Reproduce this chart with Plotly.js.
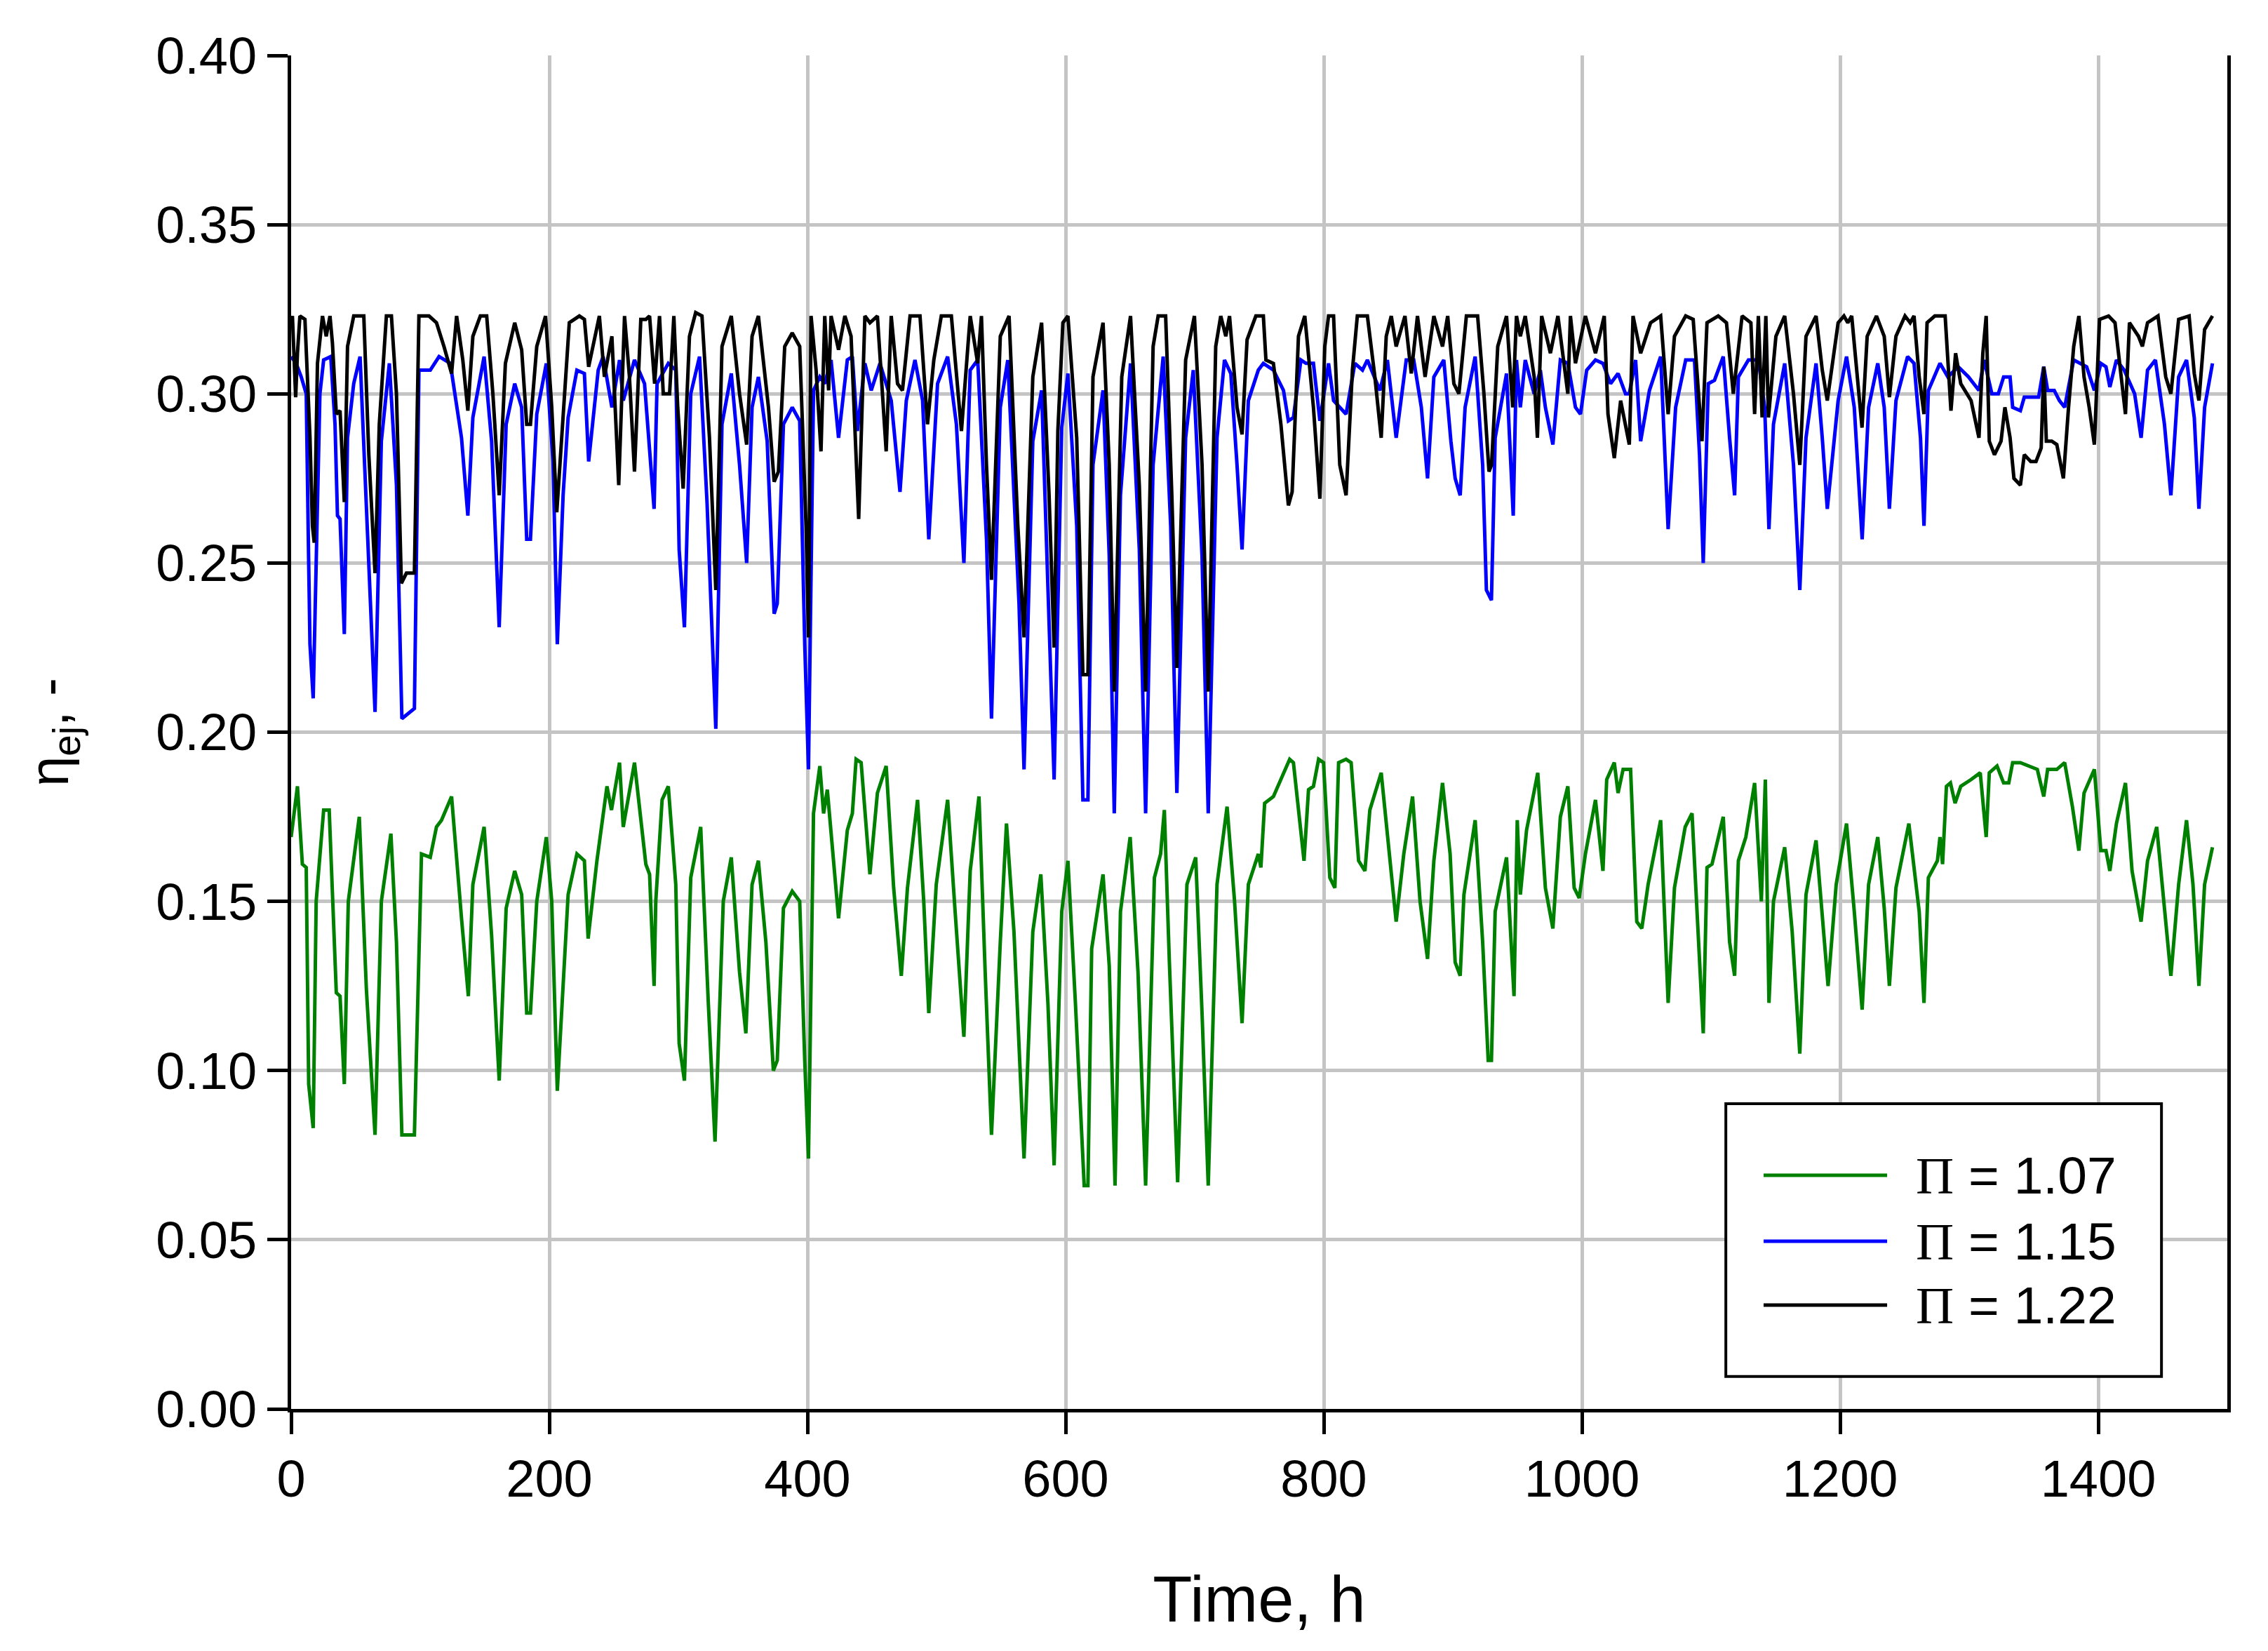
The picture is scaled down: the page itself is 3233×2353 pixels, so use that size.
<!DOCTYPE html>
<html>
<head>
<meta charset="utf-8">
<script src="https://cdn.plot.ly/plotly-3.0.1.min.js"></script>
<style>
  html, body { margin: 0; padding: 0; background: #fff; }
  #chart { width: 3233px; height: 2353px; }
</style>
</head>
<body>
<div id="chart"></div>
<script>
// values (time in h, efficiency -)
var tGreen = [0, 4.9, 8.7, 11.7, 13.6, 17.1, 19.4, 25.2, 29.5, 35, 37.9, 41.2, 44.3, 48.5, 52.8, 58.3, 65, 69.9, 77.3, 81.6,
  85.8, 95.5, 101, 107.8, 112.6, 116.5, 124.3, 132, 137.3, 140.8, 149.5, 155.3, 161.2, 166.6, 173.2, 178.6, 182.5, 185.4, 190.3, 197.7,
  201.9, 206.2, 210.7, 214.6, 221.4, 227.2, 230.1, 236.9, 244.7, 248.2, 254.4, 257.3, 266, 274.8, 277.7, 281.2, 282.5, 287.4, 292.2, 298,
  300.6, 304.7, 309.6, 311.5, 317.3, 323.2, 328.4, 334.8, 341, 347.4, 352.3, 357.1, 362, 367.8, 373.6, 376.6, 381.4, 388.2, 394, 397.9,
  400.8, 404.7, 409.6, 412.5, 415.4, 424.1, 430.9, 434.8, 437.7, 441.6, 448.4, 454.2, 461, 466.8, 472.7, 477.5, 485.3, 490.1, 494, 499.8,
  508.6, 514.4, 521.2, 526.1, 532.9, 537.7, 542.6, 549.4, 554.2, 560, 567.8, 574.6, 580.8, 586.3, 591.1, 597, 601.8, 607.6, 614.4, 617.3,
  620.2, 629, 633.8, 638.3, 642.5, 650, 656.1, 662, 668.8, 673.6, 676.5, 680.4, 686.8, 694, 700.8, 705.7, 710.5, 717.3, 725.1, 730.9,
  736.7, 741.6, 749.3, 751.3, 754.2, 761, 768.8, 773.6, 776.5, 784.7, 788.2, 792, 796, 799.8, 804.7, 808.6, 811.5, 817.3, 821.2, 827,
  831.9, 835.7, 844.5, 851.3, 856.1, 862, 868.8, 874.6, 880.4, 885.3, 892, 897.9, 901.8, 905.7, 908.6, 917.3, 923.1, 927.4, 929.9, 932.8,
  941.6, 947.4, 949.9, 952.3, 957.1, 965.8, 971.7, 977.5, 983.3, 989.1, 994, 997.9, 1002.7, 1010.5, 1016.3, 1019.2, 1025.1, 1028, 1031.9, 1037.7,
  1042.5, 1046.4, 1051.3, 1061, 1066.8, 1071.7, 1080, 1085.3, 1090.1, 1094, 1096.9, 1100.8, 1109.5, 1114.4, 1118.3, 1121.2, 1127, 1133.8, 1139, 1142.1,
  1144.9, 1148.4, 1157.1, 1162.9, 1168.8, 1173.6, 1181.4, 1186.2, 1190.7, 1197, 1205, 1211, 1217.1, 1222.1, 1229.2, 1234.2, 1238.2, 1243.3, 1253.3, 1261.3,
  1265, 1268.4, 1275.4, 1277.4, 1279.4, 1282.4, 1285.5, 1289.1, 1293.5, 1301.5, 1308.6, 1313.2, 1315.6, 1321.6, 1326.7, 1330.7, 1333.7, 1339.7, 1345.7, 1352.8,
  1357.8, 1360.8, 1367.9, 1374, 1380, 1385, 1389, 1397, 1402, 1406, 1409, 1414.1, 1421.1, 1426.2, 1433.2, 1438.2, 1445.3, 1451.3, 1456.3, 1462.3,
  1468.4, 1473.4, 1478, 1482.4, 1488.5];
var etaGreen = [0.169, 0.184, 0.161, 0.160, 0.096, 0.083, 0.150, 0.177, 0.177, 0.123, 0.122, 0.096, 0.150, 0.162, 0.175, 0.124, 0.081, 0.150, 0.170, 0.138,
  0.081, 0.081, 0.164, 0.163, 0.172, 0.174, 0.181, 0.145, 0.122, 0.155, 0.172, 0.140, 0.097, 0.148, 0.159, 0.152, 0.117, 0.117, 0.150, 0.169,
  0.150, 0.094, 0.127, 0.152, 0.164, 0.162, 0.139, 0.162, 0.184, 0.177, 0.191, 0.172, 0.191, 0.161, 0.158, 0.125, 0.150, 0.180, 0.184, 0.155,
  0.108, 0.097, 0.157, 0.161, 0.172, 0.120, 0.079, 0.150, 0.163, 0.129, 0.111, 0.155, 0.162, 0.138, 0.100, 0.103, 0.148, 0.153, 0.150, 0.103,
  0.074, 0.176, 0.190, 0.176, 0.183, 0.145, 0.171, 0.176, 0.192, 0.191, 0.158, 0.182, 0.190, 0.154, 0.128, 0.154, 0.180, 0.150, 0.117, 0.155,
  0.180, 0.147, 0.110, 0.159, 0.181, 0.129, 0.081, 0.138, 0.173, 0.141, 0.074, 0.141, 0.158, 0.120, 0.072, 0.147, 0.162, 0.120, 0.066, 0.066,
  0.136, 0.158, 0.131, 0.066, 0.147, 0.169, 0.129, 0.066, 0.157, 0.164, 0.177, 0.132, 0.067, 0.155, 0.163, 0.117, 0.066, 0.155, 0.178, 0.150,
  0.114, 0.155, 0.164, 0.160, 0.179, 0.181, 0.188, 0.192, 0.191, 0.162, 0.183, 0.184, 0.192, 0.191, 0.157, 0.154, 0.191, 0.192, 0.191, 0.162,
  0.159, 0.177, 0.188, 0.162, 0.144, 0.164, 0.181, 0.150, 0.133, 0.162, 0.185, 0.164, 0.132, 0.128, 0.152, 0.174, 0.138, 0.103, 0.103, 0.147,
  0.163, 0.122, 0.174, 0.152, 0.171, 0.188, 0.154, 0.142, 0.175, 0.184, 0.154, 0.151, 0.164, 0.180, 0.159, 0.186, 0.191, 0.182, 0.189, 0.189,
  0.144, 0.142, 0.155, 0.174, 0.120, 0.154, 0.172, 0.176, 0.138, 0.111, 0.160, 0.161, 0.175, 0.138, 0.128, 0.162, 0.169, 0.185, 0.150, 0.186,
  0.120, 0.150, 0.166, 0.141, 0.105, 0.152, 0.168, 0.147, 0.125, 0.155, 0.173, 0.147, 0.118, 0.155, 0.169, 0.148, 0.125, 0.154, 0.173, 0.147,
  0.120, 0.157, 0.162, 0.169, 0.161, 0.184, 0.185, 0.179, 0.184, 0.186, 0.188, 0.169, 0.188, 0.190, 0.185, 0.185, 0.191, 0.191, 0.190, 0.189,
  0.181, 0.189, 0.189, 0.191, 0.178, 0.165, 0.182, 0.189, 0.165, 0.165, 0.159, 0.173, 0.185, 0.159, 0.144, 0.162, 0.172, 0.147, 0.128, 0.155,
  0.174, 0.155, 0.125, 0.155, 0.166];

var tBlue = [0, 3.9, 7.8, 11.7, 13.6, 14.6, 17.1, 19.4, 22.3, 25.2, 30.7, 34, 35.9, 37.9, 41.2, 43.7, 48.5, 53.4, 58.3, 62.1,
  65, 69.9, 76.1, 81.6, 83.5, 85.8, 95.5, 99, 107.8, 114.6, 123.3, 132, 136.9, 140.8, 149.5, 155.3, 161.2, 166.6, 173.2, 178.6,
  182.5, 185.4, 190.3, 197.7, 202.9, 206.2, 210.7, 214.6, 221.4, 227.2, 230.5, 237.9, 241.7, 248.5, 254.4, 257.3, 266, 273.8, 281.2, 283.5,
  292.2, 298, 300.6, 304.7, 309.6, 316.4, 322.2, 329, 333.8, 341, 347.4, 352.9, 357.1, 362, 368.8, 374.2, 376.6, 381.4, 388.2, 394,
  397.9, 400.8, 404.7, 409.6, 413.4, 418.3, 424.1, 430.9, 434.8, 438.7, 444.5, 449.4, 456.2, 464.9, 471.7, 476.6, 483.3, 489.2, 494, 500.8,
  508.6, 515.4, 521.2, 526.1, 531.9, 538.7, 542.6, 549.4, 555.2, 563.9, 567.8, 574.6, 581.4, 587.2, 591.1, 597, 601.8, 608.6, 613.4, 617.3,
  621.2, 629, 633.8, 637.7, 642.5, 650.3, 657.1, 662, 667.8, 675.6, 681.4, 686.2, 693, 698.9, 705.7, 710.5, 717.3, 723.1, 728, 732.8,
  736.7, 741.6, 749.3, 753.2, 761, 768.8, 772.6, 776.5, 782.3, 786.2, 792, 797, 803.7, 807.6, 817.3, 824.1, 830, 833.8, 843.5, 849.3,
  856.1, 863.9, 869.7, 875.6, 880.4, 885.3, 893, 898.5, 901.8, 905.7, 909.5, 917.3, 923.1, 926, 929.9, 932.8, 941.6, 946.8, 949.3, 952.3,
  956.1, 963, 967.8, 971.7, 977.5, 983.3, 989.1, 995, 998.9, 1003.7, 1010.5, 1016.3, 1022.2, 1028, 1033.8, 1036.7, 1041.6, 1045.5, 1052.3, 1061,
  1066.8, 1072.6, 1080.4, 1087.2, 1091.1, 1094, 1097.9, 1102.7, 1109.5, 1114.4, 1118.3, 1121.2, 1129, 1136.7, 1141.6, 1144.9, 1148.4, 1157.1, 1163.9, 1168.8,
  1173.6, 1181.4, 1186.2, 1190.1, 1198.5, 1205, 1211, 1217.1, 1222.1, 1229.2, 1234.2, 1238.2, 1243.3, 1252.3, 1257.3, 1262.3, 1265, 1268.4, 1277.4, 1283.5,
  1291.5, 1299.5, 1307.6, 1311.6, 1317.6, 1322.6, 1326.7, 1331.7, 1333.7, 1339.7, 1342.7, 1353.8, 1357.8, 1360.8, 1365.9, 1369.9, 1374, 1381, 1386, 1391,
  1397, 1402, 1406, 1409, 1414.1, 1420.1, 1428.2, 1433.2, 1438.2, 1444.3, 1451.3, 1456.3, 1462.3, 1468.4, 1474.4, 1478, 1482.4, 1488.5];
var etaBlue = [0.311, 0.309, 0.305, 0.300, 0.250, 0.226, 0.210, 0.252, 0.300, 0.310, 0.311, 0.291, 0.264, 0.263, 0.229, 0.287, 0.303, 0.311, 0.266, 0.229,
  0.206, 0.286, 0.309, 0.273, 0.240, 0.204, 0.207, 0.307, 0.307, 0.311, 0.309, 0.287, 0.264, 0.293, 0.311, 0.286, 0.231, 0.291, 0.303, 0.296,
  0.257, 0.257, 0.294, 0.309, 0.280, 0.226, 0.270, 0.293, 0.307, 0.306, 0.280, 0.307, 0.311, 0.296, 0.310, 0.298, 0.310, 0.303, 0.266, 0.303,
  0.309, 0.307, 0.254, 0.231, 0.300, 0.311, 0.268, 0.201, 0.291, 0.306, 0.279, 0.250, 0.296, 0.305, 0.286, 0.235, 0.238, 0.291, 0.296, 0.292,
  0.226, 0.189, 0.301, 0.305, 0.303, 0.310, 0.287, 0.310, 0.311, 0.289, 0.309, 0.301, 0.309, 0.298, 0.271, 0.298, 0.310, 0.298, 0.257, 0.303,
  0.311, 0.291, 0.250, 0.307, 0.310, 0.257, 0.204, 0.296, 0.310, 0.238, 0.189, 0.286, 0.301, 0.233, 0.186, 0.290, 0.306, 0.261, 0.180, 0.180,
  0.279, 0.301, 0.252, 0.176, 0.270, 0.309, 0.254, 0.176, 0.279, 0.311, 0.261, 0.182, 0.287, 0.307, 0.252, 0.176, 0.287, 0.310, 0.306, 0.279,
  0.254, 0.298, 0.307, 0.309, 0.307, 0.301, 0.292, 0.293, 0.310, 0.309, 0.309, 0.292, 0.309, 0.298, 0.294, 0.309, 0.307, 0.310, 0.301, 0.310,
  0.287, 0.310, 0.310, 0.296, 0.275, 0.305, 0.310, 0.286, 0.275, 0.270, 0.296, 0.311, 0.279, 0.242, 0.239, 0.287, 0.306, 0.264, 0.310, 0.296,
  0.310, 0.300, 0.307, 0.296, 0.285, 0.310, 0.309, 0.296, 0.294, 0.307, 0.310, 0.309, 0.303, 0.306, 0.300, 0.300, 0.310, 0.286, 0.301, 0.311,
  0.260, 0.296, 0.310, 0.310, 0.282, 0.250, 0.303, 0.304, 0.311, 0.287, 0.270, 0.305, 0.310, 0.310, 0.296, 0.260, 0.291, 0.309, 0.279, 0.242,
  0.287, 0.309, 0.287, 0.266, 0.298, 0.311, 0.296, 0.257, 0.296, 0.309, 0.296, 0.266, 0.298, 0.311, 0.309, 0.287, 0.261, 0.301, 0.309, 0.305,
  0.308, 0.305, 0.301, 0.310, 0.300, 0.300, 0.305, 0.305, 0.296, 0.295, 0.299, 0.299, 0.308, 0.301, 0.301, 0.298, 0.296, 0.310, 0.309, 0.308,
  0.301, 0.309, 0.308, 0.302, 0.310, 0.307, 0.300, 0.287, 0.307, 0.310, 0.291, 0.270, 0.305, 0.310, 0.293, 0.266, 0.296, 0.309];

var tBlack = [0, 1, 3.5, 4.9, 6.8, 10.7, 14.6, 16.5, 17.9, 20.4, 24.3, 27.2, 30.1, 32, 35, 37.9, 41.2, 43.7, 48.5, 53.4,
  56.3, 60.2, 65, 68.3, 73.8, 77.7, 81.6, 85.4, 89.3, 95.5, 99, 106.8, 112.6, 118.4, 124.3, 128.2, 133, 136.9, 140.8, 146.6,
  151.5, 156.3, 161.2, 166, 173.2, 178.6, 182.5, 185.4, 190.3, 197.1, 201.9, 205.8, 210.7, 215.5, 223.3, 227.2, 230.5, 238.8, 242.7, 248.5,
  253.8, 258.3, 262.1, 266, 270.9, 274.8, 277.7, 281.6, 285.4, 288.3, 293.2, 296.5, 299.5, 303.7, 308.6, 313.4, 318.3, 324.1, 329, 333.8,
  341, 347.4, 352.9, 357.1, 362, 369.8, 374.2, 377.5, 382.4, 388.2, 394, 398.9, 400.8, 402.8, 406.7, 410.5, 413.4, 416.4, 418.3, 424.1,
  429, 433.8, 439.7, 444.5, 448.4, 454.2, 461, 464.9, 469.8, 473.6, 479.5, 487.2, 493, 497.9, 503.7, 511.5, 519.3, 526.1, 531.9, 534.8,
  538.7, 542.6, 549.4, 556.2, 563, 567.8, 574.6, 581.4, 587.2, 591.1, 594, 597.9, 601.8, 608.6, 613.4, 617.3, 621.2, 629, 633.8, 637.7,
  643.5, 650.3, 657.1, 662, 667.8, 671.7, 677.5, 682.3, 686.2, 693, 699.8, 705.7, 710.5, 716.3, 720.2, 724.1, 727, 732.8, 736.7, 740.6,
  747.4, 753.2, 755.2, 761, 766.8, 772.6, 775.5, 780.4, 785.3, 792, 797, 800.8, 803.7, 807.6, 812.4, 817.3, 822.2, 826, 833.8, 839.6,
  844.5, 848.4, 852.3, 856.1, 862.9, 867.8, 872.6, 878.5, 885.3, 892, 896, 900.8, 904.7, 910.5, 919.2, 924.1, 928, 930, 934.8, 941.6,
  946.4, 949.3, 952.3, 956.1, 963, 965.5, 968.8, 975.6, 981.4, 989.1, 991.1, 995, 1002.7, 1010.5, 1017.3, 1020.2, 1025.1, 1030, 1036.7, 1039.6,
  1045.5, 1053.2, 1061, 1066.8, 1071.7, 1080.4, 1086.2, 1093, 1096.9, 1105.6, 1112, 1117.3, 1124.1, 1130.9, 1133.8, 1136.7, 1139.6, 1142.5, 1144.5, 1150.3,
  1157.1, 1163.9, 1168.8, 1173.6, 1181.4, 1186.2, 1190.1, 1198.5, 1203, 1206, 1209, 1214, 1217, 1221, 1228.2, 1234.2, 1238.2, 1243.3, 1250.3, 1254.3,
  1257.3, 1261.3, 1265, 1267.4, 1273.4, 1281.4, 1284.5, 1285.9, 1289.5, 1293.5, 1301.5, 1307.6, 1310.6, 1313.2, 1315.6, 1319.6, 1324.7, 1327.7, 1331.7, 1334.7,
  1339.7, 1342.7, 1347.7, 1351.8, 1355.8, 1357.8, 1359.8, 1364, 1367.9, 1373, 1377, 1381, 1385, 1389, 1393, 1397, 1401, 1408, 1413, 1418,
  1421.1, 1424.2, 1431.2, 1434.2, 1438.2, 1446.3, 1452.3, 1456.3, 1462.3, 1470.4, 1474.4, 1478, 1482.4, 1488.5];
var etaBlack = [0.321, 0.323, 0.299, 0.312, 0.323, 0.322, 0.287, 0.261, 0.256, 0.309, 0.323, 0.317, 0.323, 0.315, 0.294, 0.295, 0.268, 0.314, 0.323, 0.323,
  0.323, 0.282, 0.247, 0.291, 0.323, 0.323, 0.300, 0.244, 0.247, 0.247, 0.323, 0.323, 0.321, 0.314, 0.306, 0.323, 0.310, 0.295, 0.317, 0.323,
  0.323, 0.300, 0.270, 0.309, 0.321, 0.313, 0.291, 0.291, 0.314, 0.323, 0.296, 0.265, 0.293, 0.321, 0.323, 0.322, 0.308, 0.323, 0.305, 0.317,
  0.273, 0.323, 0.305, 0.277, 0.322, 0.322, 0.323, 0.303, 0.323, 0.300, 0.300, 0.323, 0.296, 0.272, 0.317, 0.324, 0.323, 0.287, 0.242, 0.314,
  0.323, 0.300, 0.285, 0.317, 0.323, 0.296, 0.274, 0.277, 0.314, 0.318, 0.314, 0.261, 0.228, 0.323, 0.307, 0.283, 0.323, 0.301, 0.323, 0.313,
  0.323, 0.317, 0.263, 0.323, 0.321, 0.323, 0.283, 0.323, 0.303, 0.301, 0.323, 0.323, 0.291, 0.310, 0.323, 0.323, 0.289, 0.323, 0.309, 0.323,
  0.279, 0.245, 0.317, 0.323, 0.261, 0.228, 0.305, 0.321, 0.270, 0.225, 0.289, 0.321, 0.323, 0.287, 0.217, 0.217, 0.305, 0.321, 0.279, 0.212,
  0.305, 0.323, 0.273, 0.212, 0.314, 0.323, 0.323, 0.270, 0.219, 0.310, 0.323, 0.279, 0.212, 0.314, 0.323, 0.317, 0.323, 0.296, 0.288, 0.316,
  0.323, 0.323, 0.310, 0.309, 0.291, 0.267, 0.271, 0.317, 0.323, 0.296, 0.269, 0.314, 0.323, 0.323, 0.279, 0.270, 0.307, 0.323, 0.323, 0.305,
  0.287, 0.317, 0.323, 0.314, 0.323, 0.306, 0.323, 0.305, 0.323, 0.314, 0.323, 0.303, 0.300, 0.323, 0.323, 0.300, 0.277, 0.279, 0.314, 0.323,
  0.296, 0.323, 0.317, 0.323, 0.305, 0.287, 0.323, 0.312, 0.323, 0.300, 0.323, 0.309, 0.323, 0.312, 0.323, 0.294, 0.281, 0.298, 0.285, 0.323,
  0.312, 0.321, 0.323, 0.294, 0.317, 0.323, 0.322, 0.286, 0.321, 0.323, 0.321, 0.300, 0.323, 0.321, 0.294, 0.323, 0.293, 0.323, 0.293, 0.317,
  0.323, 0.300, 0.279, 0.317, 0.323, 0.307, 0.298, 0.321, 0.323, 0.321, 0.323, 0.301, 0.290, 0.317, 0.323, 0.317, 0.299, 0.317, 0.323, 0.321,
  0.323, 0.305, 0.294, 0.321, 0.323, 0.323, 0.305, 0.295, 0.312, 0.303, 0.298, 0.287, 0.312, 0.323, 0.286, 0.282, 0.286, 0.296, 0.287, 0.275,
  0.273, 0.282, 0.280, 0.280, 0.284, 0.308, 0.286, 0.286, 0.285, 0.275, 0.296, 0.314, 0.323, 0.305, 0.296, 0.285, 0.322, 0.323, 0.321, 0.305,
  0.294, 0.321, 0.317, 0.314, 0.321, 0.323, 0.305, 0.300, 0.322, 0.323, 0.306, 0.298, 0.319, 0.323];

var seriesNames = ["Π = 1.07", "Π = 1.15", "Π = 1.22"];
var seriesColors = ["rgb(0,128,0)", "rgb(0,0,255)", "rgb(0,0,0)"];
var xTicks = [0, 200, 400, 600, 800, 1000, 1200, 1400];
var yTicks = [0, 0.05, 0.10, 0.15, 0.20, 0.25, 0.30, 0.35, 0.40];

var FONT = "Liberation Sans, Arial, sans-serif";

function makeTrace(t, eta, i) {
    return {
        x: t,
        y: eta,
        type: "scatter",
        mode: "lines",
        name: seriesNames[i],
        line: { color: seriesColors[i], width: 5 },
        showlegend: false,
    };
}

var data = [
    makeTrace(tGreen, etaGreen, 0),
    makeTrace(tBlue, etaBlue, 1),
    makeTrace(tBlack, etaBlack, 2),
];

// hand-drawn legend box in the lower right corner
var legX0 = 0.741, legX1 = 0.966, legY0 = 0.024, legY1 = 0.2255;
var rowY = [0.1726, 0.1239, 0.0767];
var shapes = [
    {
        type: "rect", xref: "paper", yref: "paper",
        x0: legX0, x1: legX1, y0: legY0, y1: legY1,
        line: { color: "black", width: 4 }, fillcolor: "white", layer: "above",
    },
];
var annotations = [];
seriesNames.forEach(function (name, i) {
    shapes.push({
        type: "line", xref: "paper", yref: "paper",
        x0: 0.7605, x1: 0.8243, y0: rowY[i], y1: rowY[i],
        line: { color: seriesColors[i], width: 5 }, layer: "above",
    });
    annotations.push({
        xref: "paper", yref: "paper", x: 0.8384, y: rowY[i],
        xanchor: "left", yanchor: "middle", showarrow: false,
        text: '<span style="font-family:Liberation Serif">Π</span>' + name.slice(1),
        font: { family: FONT, size: 75, color: "black" },
    });
});

var layout = {
    width: 3233,
    height: 2353,
    margin: { l: 415, r: 58, t: 79, b: 345 },
    paper_bgcolor: "white",
    plot_bgcolor: "white",
    font: { family: FONT, size: 74, color: "black" },
    xaxis: {
        range: [0, 1500],
        tickvals: xTicks,
        ticktext: xTicks.map(String),
        ticks: "outside",
        ticklen: 31,
        tickwidth: 5,
        tickcolor: "black",
        showline: true,
        linecolor: "black",
        linewidth: 5,
        showgrid: true,
        gridcolor: "#c4c4c4",
        gridwidth: 5,
        zeroline: false,
        tickfont: { family: FONT, size: 74, color: "black" },
        title: { text: "Time, h", font: { family: FONT, size: 92, color: "black" }, standoff: 100 },
    },
    yaxis: {
        range: [0, 0.4],
        tickvals: yTicks,
        ticktext: yTicks.map(function (v) { return v.toFixed(2); }),
        ticks: "outside",
        ticklen: 29,
        tickwidth: 5,
        tickcolor: "black",
        showline: true,
        mirror: true,
        linecolor: "black",
        linewidth: 5,
        showgrid: true,
        gridcolor: "#c4c4c4",
        gridwidth: 5,
        zeroline: false,
        tickfont: { family: FONT, size: 74, color: "black" },
        title: { text: "η<sub>ej</sub>, -", font: { family: FONT, size: 78, color: "black" }, standoff: 100 },
    },
    shapes: shapes,
    annotations: annotations,
};

Plotly.newPlot("chart", data, layout, { displayModeBar: false, staticPlot: true });
</script>
</body>
</html>
